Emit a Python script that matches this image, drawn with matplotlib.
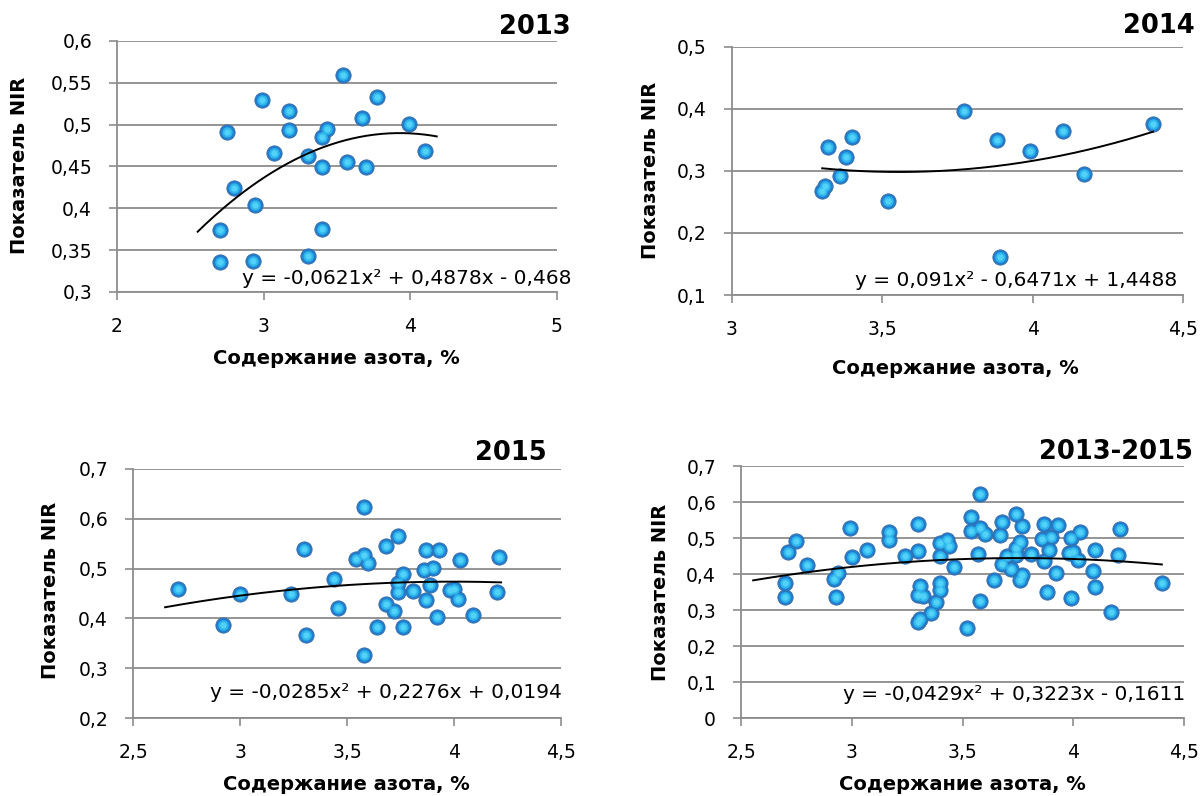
import numpy as np
import matplotlib
matplotlib.use("Agg")
import matplotlib.pyplot as plt
from matplotlib.ticker import FuncFormatter

plt.rcParams['font.family'] = ['DejaVu Sans']

# ---------------- data ----------------
x_2013 = [2.70, 2.70, 2.75, 2.80, 2.94, 2.93, 2.99, 3.07, 3.17, 3.17, 3.30, 3.30,
          3.40, 3.43, 3.40, 3.40, 3.54, 3.57, 3.67, 3.70, 3.77, 3.99, 4.10]
nir_2013 = [0.336, 0.374, 0.491, 0.424, 0.404, 0.337, 0.529, 0.466, 0.516, 0.494, 0.343, 0.463,
            0.485, 0.495, 0.449, 0.375, 0.559, 0.455, 0.508, 0.449, 0.533, 0.501, 0.468]

x_2014 = [3.30, 3.31, 3.32, 3.36, 3.38, 3.40, 3.52, 3.77, 3.88, 3.89, 3.99, 4.10, 4.17, 4.40]
nir_2014 = [0.267, 0.276, 0.338, 0.292, 0.322, 0.355, 0.251, 0.397, 0.350, 0.162, 0.333, 0.365,
            0.295, 0.376]

x_2015 = [2.71, 2.92, 3.00, 3.24, 3.30, 3.31, 3.44, 3.46, 3.54, 3.58, 3.58, 3.60, 3.58,
          3.64, 3.68, 3.68, 3.72, 3.74, 3.74, 3.74, 3.76, 3.76, 3.81, 3.86, 3.87, 3.87,
          3.90, 3.89, 3.92, 3.93, 3.98, 4.00, 4.02, 4.03, 4.09, 4.20, 4.21]
nir_2015 = [0.460, 0.387, 0.448, 0.450, 0.540, 0.366, 0.479, 0.420, 0.519, 0.623, 0.527, 0.512,
            0.326, 0.383, 0.545, 0.428, 0.415, 0.566, 0.472, 0.454, 0.490, 0.382, 0.456, 0.497,
            0.538, 0.437, 0.502, 0.467, 0.402, 0.537, 0.458, 0.460, 0.438, 0.518, 0.407, 0.454,
            0.524]

# the pooled 2013-2015 chart does not show the 2014 outlier (3.89; 0.162)
excluded_pooled = [(3.89, 0.162)]
pairs_all = [p for p in zip(x_2013 + x_2014 + x_2015, nir_2013 + nir_2014 + nir_2015)
             if p not in excluded_pooled]
x_all = [p[0] for p in pairs_all]
nir_all = [p[1] for p in pairs_all]

# polynomial trend coefficients (as printed on the chart) and the x-span of each trend line
coef_2013 = [-0.0621, 0.4878, -0.468]
coef_2014 = [0.091, -0.6471, 1.4488]
coef_2015 = [-0.0285, 0.2276, 0.0194]
coef_all = [-0.0429, 0.3223, -0.1611]
span_2013 = [2.55, 4.18]
span_2014 = [3.30, 4.40]
span_2015 = [2.65, 4.22]
span_all = [2.555, 4.40]

eq_2013 = "y = -0,0621x² + 0,4878x - 0,468"
eq_2014 = "y = 0,091x² - 0,6471x + 1,4488"
eq_2015 = "y = -0,0285x² + 0,2276x + 0,0194"
eq_all = "y = -0,0429x² + 0,3223x - 0,1611"

titles = ["2013", "2014", "2015", "2013-2015"]
xlabel = "Содержание азота, %"
ylabel = "Показатель NIR"

xticks_2013 = [2, 3, 4, 5]
yticks_2013 = [0.3, 0.35, 0.4, 0.45, 0.5, 0.55, 0.6]
xticks_2014 = [3, 3.5, 4, 4.5]
yticks_2014 = [0.1, 0.2, 0.3, 0.4, 0.5]
xticks_2015 = [2.5, 3, 3.5, 4, 4.5]
yticks_2015 = [0.2, 0.3, 0.4, 0.5, 0.6, 0.7]
xticks_all = [2.5, 3, 3.5, 4, 4.5]
yticks_all = [0, 0.1, 0.2, 0.3, 0.4, 0.5, 0.6, 0.7]

# ---------------- layout ----------------
W, H = 1200, 796
fig = plt.figure(figsize=(W / 100, H / 100), dpi=100)
GRAY = "#8c8c8c"


def fx(px):
    return px / W


def fy(py):
    return 1 - py / H


comma = FuncFormatter(lambda v, p: f"{v:g}".replace(".", ","))


def panel(box, xs, ys, coef, span, xticks, yticks, title, eq, title_pos, ylab_pos, xlab_pos, eq_pos):
    l, t, r, b = box
    ax = fig.add_axes([fx(l), fy(b), (r - l) / W, (b - t) / H])
    ax.set_xlim(xticks[0], xticks[-1])
    ax.set_ylim(yticks[0], yticks[-1])
    ax.set_xticks(xticks)
    ax.set_yticks(yticks)
    ax.xaxis.set_major_formatter(comma)
    ax.yaxis.set_major_formatter(comma)
    ax.yaxis.grid(True, color=GRAY, linewidth=1.3, zorder=0)
    ax.set_axisbelow(True)
    for s in ["top", "right"]:
        ax.spines[s].set_visible(False)
    for s in ["left", "bottom"]:
        ax.spines[s].set_color(GRAY)
        ax.spines[s].set_linewidth(1.3)
    ax.tick_params(axis="x", direction="out", length=5.5, width=1.2, color=GRAY,
                   labelsize=13.5, pad=12.5)
    ax.tick_params(axis="y", direction="out", length=5.5, width=1.2, color=GRAY,
                   labelsize=13.5, pad=12.5)

    # markers with a simple shaded look
    ax.plot(xs, ys, linestyle="none", marker="o", markersize=11,
            markerfacecolor="#1f80d2", markeredgecolor="#3a6aa0", markeredgewidth=0.6, zorder=3)
    ax.plot(xs, ys, linestyle="none", marker="o", markersize=7.5,
            markerfacecolor="#2fb6ec", markeredgecolor="none", zorder=4)
    ax.plot(xs, ys, linestyle="none", marker="o", markersize=4.5,
            markerfacecolor="#52d2f6", markeredgecolor="none", zorder=5)

    xt = np.linspace(span[0], span[1], 200)
    ax.plot(xt, np.polyval(coef, xt), color="black", linewidth=1.4, zorder=6)

    fig.text(fx(title_pos[0]), fy(title_pos[1]), title, ha="right", va="center",
             fontsize=18.5, fontweight="bold")
    fig.text(fx(ylab_pos[0]), fy(ylab_pos[1]), ylabel, rotation=90, ha="center", va="center",
             fontsize=14, fontweight="bold")
    fig.text(fx(xlab_pos[0]), fy(xlab_pos[1]), xlabel, ha="center", va="center",
             fontsize=14, fontweight="bold")
    fig.text(fx(eq_pos[0]), fy(eq_pos[1]), eq, ha="right", va="center", fontsize=14.5, zorder=10)
    return ax


panel((117, 41, 557, 292), x_2013, nir_2013, coef_2013, span_2013, xticks_2013, yticks_2013,
      titles[0], eq_2013, (571, 27), (20, 165), (336, 358), (572, 279))
panel((732, 47, 1183, 295), x_2014, nir_2014, coef_2014, span_2014, xticks_2014, yticks_2014,
      titles[1], eq_2014, (1195, 26), (651, 170), (955, 368), (1177, 280))
panel((133, 469, 561, 718), x_2015, nir_2015, coef_2015, span_2015, xticks_2015, yticks_2015,
      titles[2], eq_2015, (547, 453), (51, 590), (346, 785), (562, 692))
panel((741, 466, 1184, 718), x_all, nir_all, coef_all, span_all, xticks_all, yticks_all,
      titles[3], eq_all, (1193, 452), (660, 592), (962, 785), (1185, 695))

fig.savefig("out.png", dpi=100)
